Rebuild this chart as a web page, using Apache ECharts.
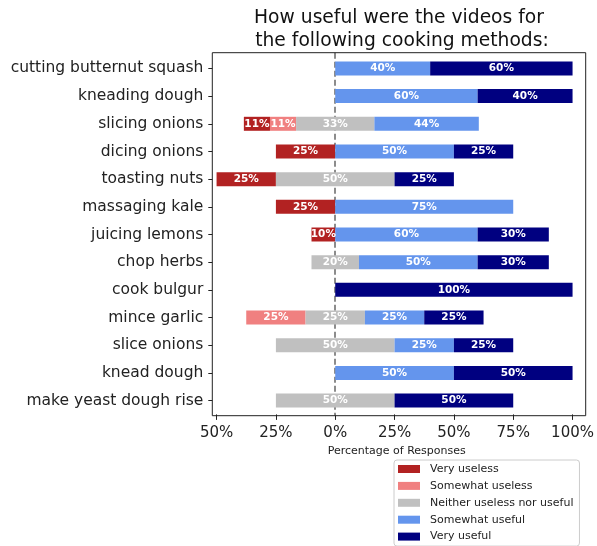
<!DOCTYPE html>
<html>
<head>
<meta charset="utf-8">
<script src="https://cdn.jsdelivr.net/npm/echarts@6/dist/echarts.min.js"></script>
<style>
  html, body { margin: 0; padding: 0; background: #fff; }
  #chart { width: 597px; height: 546px; }
</style>
</head>
<body>
<div id="chart"></div>
<script>
// 数据
var categories = ['cutting butternut squash', 'kneading dough', 'slicing onions', 'dicing onions',
  'toasting nuts', 'massaging kale', 'juicing lemons', 'chop herbs', 'cook bulgur',
  'mince garlic', 'slice onions', 'knead dough', 'make yeast dough rise'];
var veryUseless     = [0, 0, 11, 25, 25, 25, 10, 0, 0, 0, 0, 0, 0];
var somewhatUseless = [0, 0, 11, 0, 0, 0, 0, 0, 0, 25, 0, 0, 0];
var neutral         = [0, 0, 33, 0, 50, 0, 0, 20, 0, 25, 50, 0, 50];
var somewhatUseful  = [40, 60, 44, 50, 0, 75, 60, 50, 0, 25, 25, 50, 0];
var veryUseful      = [60, 40, 0, 25, 25, 0, 30, 30, 100, 25, 25, 50, 50];
var tickValues = [-50, -25, 0, 25, 50, 75, 100];

var seriesNames = ['Very useless', 'Somewhat useless', 'Neither useless nor useful', 'Somewhat useful', 'Very useful'];
var seriesColors = ['#B22222', '#F08080', '#C0C0C0', '#6495ED', '#000080'];
var seriesData = [veryUseless, somewhatUseless, neutral, somewhatUseful, veryUseful];

// 中性居中：偏移量 = -(非常无用 + 有点无用 + 中性/2)
var offset = categories.map(function (c, i) {
  return -(veryUseless[i] + somewhatUseless[i] + neutral[i] / 2);
});

var font = 'DejaVu Sans';
var chart = echarts.init(document.getElementById('chart'));

var series = [{
  name: 'offset',
  type: 'bar',
  stack: 'total',
  stackStrategy: 'all',
  barWidth: 14,
  z: 2,
  silent: true,
  itemStyle: { color: 'rgba(0,0,0,0)' },
  label: { show: false },
  data: offset,
  markLine: {
    silent: true,
    z: 1,
    symbol: 'none',
    label: { show: false },
    lineStyle: { color: '#808080', type: [6, 3], width: 1.8 },
    data: [[{ xAxis: 0, y: 52.7 }, { xAxis: 0, y: 415.7 }]]
  }
}];

for (var k = 0; k < seriesNames.length; k++) {
  series.push({
    name: seriesNames[k],
    type: 'bar',
    stack: 'total',
    stackStrategy: 'all',
    barWidth: 14,
    z: 2,
    itemStyle: { color: seriesColors[k] },
    label: {
      show: true,
      position: 'inside',
      color: '#fff',
      fontFamily: font,
      fontWeight: 'bold',
      fontSize: 10.5,
      formatter: function (p) { return p.value > 0 ? p.value + '%' : ''; }
    },
    data: seriesData[k]
  });
}

var option = {
  animation: false,
  backgroundColor: '#fff',
  title: {
    text: 'How useful were the videos for\n the following cooking methods:',
    left: 399,
    top: 7,
    padding: 0,
    textAlign: 'center',
    textStyle: { fontFamily: font, fontSize: 18.7, fontWeight: 'normal', color: '#111', lineHeight: 23 }
  },
  // 图框（matplotlib 的四条边框）
  graphic: [{
    type: 'rect',
    silent: true,
    z: 10,
    shape: { x: 212.3, y: 52.7, width: 373.4, height: 363 },
    style: { fill: null, stroke: '#222', lineWidth: 1 }
  }],
  legend: {
    orient: 'vertical',
    left: 394,
    top: 460,
    height: 120,
    padding: [2.5, 6, 3, 4],
    itemWidth: 22,
    itemHeight: 8,
    itemGap: 3.9,
    borderColor: '#ccc',
    borderWidth: 1,
    borderRadius: 3,
    icon: 'rect',
    data: seriesNames,
    textStyle: { fontFamily: font, fontSize: 11, color: '#222', lineHeight: 13, padding: [0, 0, 0, 5] }
  },
  grid: {
    left: 212.3,
    right: 11.3,
    top: 54.6,
    bottom: 131.6,
    show: false,
    containLabel: false
  },
  xAxis: {
    type: 'value',
    min: -51.8,
    max: 103.6,
    name: 'Percentage of Responses',
    nameLocation: 'middle',
    nameGap: 30,
    nameTextStyle: { fontFamily: font, fontSize: 11, color: '#222' },
    axisLine: { show: false, onZero: false },
    splitLine: { show: false },
    axisTick: { show: true, length: 5.5, customValues: tickValues, lineStyle: { color: '#222' } },
    axisLabel: {
      customValues: tickValues,
      margin: 11,
      fontFamily: font,
      fontSize: 15,
      color: '#222',
      formatter: function (v) { return Math.abs(v) + '%'; }
    }
  },
  yAxis: {
    type: 'category',
    inverse: true,
    data: categories,
    axisLine: { show: false, onZero: false },
    axisTick: { show: true, alignWithLabel: true, length: 4, lineStyle: { color: '#222' } },
    axisLabel: { margin: 9, padding: [7, 0, 0, 0], fontFamily: font, fontSize: 15.5, color: '#222' },
    splitLine: { show: false }
  },
  series: series
};

chart.setOption(option);
</script>
</body>
</html>
